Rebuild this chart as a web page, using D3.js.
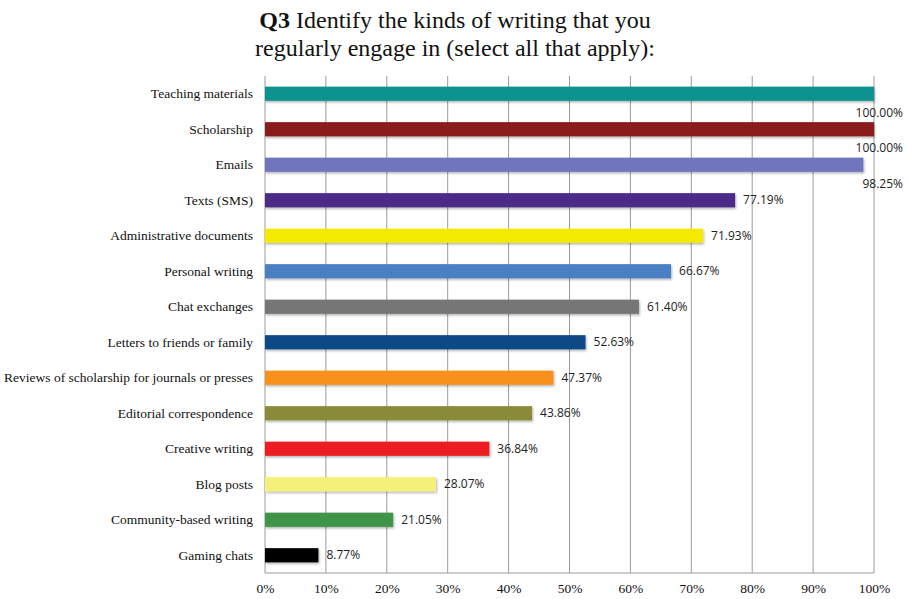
<!DOCTYPE html>
<html>
<head>
<meta charset="utf-8">
<script src="https://cdn.jsdelivr.net/npm/d3@7"></script>
<style>
  body { margin: 0; background: #fff; }
  svg { display: block; }
  .serif { font-family: 'Liberation Serif', 'DejaVu Serif', 'Times New Roman', Times, serif; }
  .sans { font-family: 'Open Sans', 'Liberation Sans', Arial, sans-serif; }
</style>
</head>
<body>
<div id="chart"></div>
<script>
const categories = ['Teaching materials', 'Scholarship', 'Emails', 'Texts (SMS)',
  'Administrative documents', 'Personal writing', 'Chat exchanges',
  'Letters to friends or family', 'Reviews of scholarship for journals or presses',
  'Editorial correspondence', 'Creative writing', 'Blog posts',
  'Community-based writing', 'Gaming chats'];
const values = [100.00, 100.00, 98.25, 77.19, 71.93, 66.67, 61.40, 52.63, 47.37, 43.86, 36.84, 28.07, 21.05, 8.77];
const colors = ['#10938f', '#8b1a1c', '#6f75bd', '#4b2c8a', '#f3ea00', '#4a7fc3', '#767676',
  '#0b4a85', '#f7901e', '#898b37', '#ed1f24', '#f5f07a', '#3f9447', '#000000'];
const ticks = [0, 10, 20, 30, 40, 50, 60, 70, 80, 90, 100];

const W = 909, H = 599;
const margin = {top: 76, right: 35, bottom: 26, left: 265};
const w = W - margin.left - margin.right;
const h = H - margin.top - margin.bottom;

const svg = d3.select('#chart').append('svg')
  .attr('width', W).attr('height', H);

// title
const title = svg.append('text')
  .attr('class', 'serif')
  .attr('x', 455).attr('text-anchor', 'middle')
  .attr('font-size', 24).attr('fill', '#111');
const t1 = title.append('tspan').attr('x', 455).attr('y', 28);
t1.append('tspan').attr('font-weight', 'bold').text('Q3');
t1.append('tspan').text(' Identify the kinds of writing that you');
title.append('tspan').attr('x', 455).attr('y', 56)
  .text('regularly engage in (select all that apply):');

const defs = svg.append('defs');
const f = defs.append('filter').attr('id', 'shadow')
  .attr('x', '-5%').attr('y', '-30%').attr('width', '110%').attr('height', '170%');
f.append('feDropShadow').attr('dx', 1).attr('dy', 1.5).attr('stdDeviation', 1)
  .attr('flood-color', '#000').attr('flood-opacity', 0.3);

const g = svg.append('g').attr('transform', `translate(${margin.left},${margin.top})`);

const x = d3.scaleLinear().domain([0, 100]).range([0, w]);
const y = d3.scaleBand().domain(categories).range([0, h]).paddingInner(0.6).paddingOuter(0.3);

// grid lines
g.append('g').selectAll('line')
  .data(ticks)
  .join('line')
    .attr('x1', d => x(d)).attr('x2', d => x(d))
    .attr('y1', 0).attr('y2', h)
    .attr('stroke', '#9a9a9a').attr('stroke-width', 1);
g.append('line')
  .attr('x1', 0).attr('x2', w).attr('y1', h).attr('y2', h)
  .attr('stroke', '#9a9a9a');

// x axis labels
const xAxis = d3.axisBottom(x).tickValues(ticks).tickFormat(d => d + '%').tickSize(0).tickPadding(10);
const xg = g.append('g').attr('transform', `translate(0,${h})`).call(xAxis)
  .attr('font-family', null).attr('font-size', null).attr('class', 'serif');
xg.select('.domain').remove();
xg.selectAll('text').attr('font-size', 13.5).attr('fill', '#111');

// y axis labels
const yAxis = d3.axisLeft(y).tickSize(0).tickPadding(12);
const yg = g.append('g').call(yAxis)
  .attr('font-family', null).attr('font-size', null).attr('class', 'serif');
yg.select('.domain').remove();
yg.selectAll('text').attr('font-size', 13.5).attr('fill', '#111');

// bars
g.append('g').selectAll('rect')
  .data(values)
  .join('rect')
    .attr('x', 0)
    .attr('y', (d, i) => y(categories[i]))
    .attr('width', d => x(d))
    .attr('height', y.bandwidth())
    .attr('fill', (d, i) => colors[i])
    .attr('filter', 'url(#shadow)');

// value labels
g.append('g').attr('class', 'sans').selectAll('text')
  .data(values)
  .join('text')
    .attr('x', d => d > 95 ? W - margin.left - 6 : x(d) + 8)
    .attr('y', (d, i) => y(categories[i]) + y.bandwidth() / 2 + (d > 95 ? 19 : 0))
    .attr('dy', '0.35em')
    .attr('text-anchor', d => d > 95 ? 'end' : 'start')
    .attr('font-size', 12)
    .attr('fill', '#222')
    .text(d => d.toFixed(2) + '%');
</script>
</body>
</html>
